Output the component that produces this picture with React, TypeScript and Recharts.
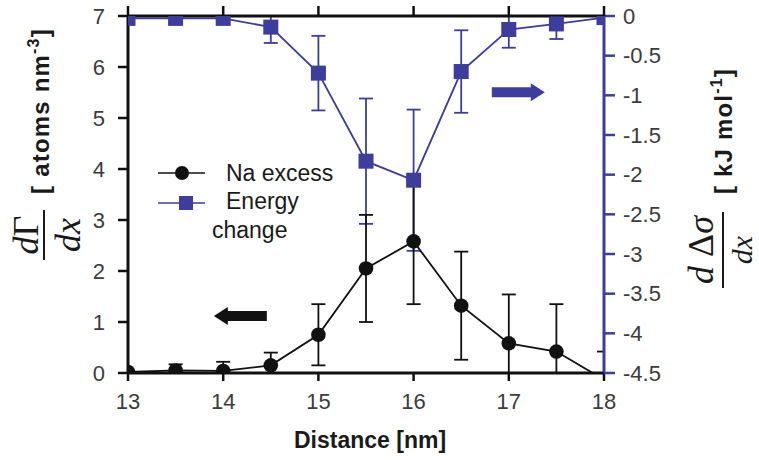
import { LineChart, Line, XAxis, YAxis, ErrorBar, Legend, ReferenceDot, ReferenceLine } from "recharts";

// distance along the profile [nm]
const distance = [13, 13.5, 14, 14.5, 15, 15.5, 16, 16.5, 17, 17.5, 18];
// Na excess dΓ/dx [atoms nm^-3] and its error
const naExcess = [0.02, 0.05, 0.04, 0.15, 0.75, 2.05, 2.58, 1.32, 0.58, 0.42, -0.13];
const naError = [0.02, 0.12, 0.18, 0.25, 0.6, 1.05, 1.23, 1.06, 0.96, 0.93, 0.55];
// energy change dΔσ/dx [kJ mol^-1] and its error
const energyChange = [-0.03, -0.03, -0.03, -0.14, -0.72, -1.83, -2.07, -0.7, -0.17, -0.1, -0.02];
const energyError = [0, 0, 0, 0.2, 0.47, 0.79, 0.89, 0.52, 0.23, 0.19, 0];

const xTicks = [13, 14, 15, 16, 17, 18];
const leftTicks = [0, 1, 2, 3, 4, 5, 6, 7];
const rightTicks = [0, -0.5, -1, -1.5, -2, -2.5, -3, -3.5, -4, -4.5];

// arrow anchors (data units)
const leftArrowAt = { x: 14.18, y: 1.12 };
const rightArrowAt = { x: 17.1, y: -0.96 };

const BLUE = "#3c3d9c";
const BLACK = "#111111";
const GREY = "#3c3c3c";
const SANS = "'Liberation Sans', Arial, sans-serif";
const SERIF = "'Liberation Serif', 'Times New Roman', serif";

const CHART_W = 759;
const CHART_H = 460;
const LEFT_W = 128;
const RIGHT_W = 155;

const data = distance.map((d, i) => ({
  distance: d,
  na: naExcess[i],
  naErr: naError[i],
  energy: energyChange[i],
  energyErr: energyError[i],
}));

// error bars and markers are cut at the frame, like in the original figure
const clipCss = ".recharts-errorBars, .recharts-line-dots { clip-path: url(#plotClip); }";

function CircleDot(props: any) {
  const { cx, cy } = props;
  if (cx == null || cy == null) return null;
  return <circle key={props.key} cx={cx} cy={cy} r={7.3} fill={BLACK} />;
}

function SquareDot(props: any) {
  const { cx, cy } = props;
  if (cx == null || cy == null) return null;
  return <rect key={props.key} x={cx - 7.5} y={cy - 7.5} width={15} height={15} fill={BLUE} />;
}

/** Short outward tick on the top frame, anchored at (tick, yMax). */
function TopTick(props: any) {
  const { cx = 0, cy = 0 } = props;
  return <line x1={cx} y1={cy} x2={cx} y2={cy - 10} stroke={BLACK} strokeWidth={2.5} />;
}

/** Fat block arrow centred on (cx, cy); dir 1 points right, -1 points left. */
function makeArrow(dir: number, color: string) {
  return (props: any) => {
    const { cx = 0, cy = 0 } = props;
    const len = 53, body = 10, head = 18, headLen = 14;
    const tail = cx - (dir * len) / 2;
    const tip = cx + (dir * len) / 2;
    const neck = tip - dir * headLen;
    const pts = [
      [tail, cy - body / 2],
      [neck, cy - body / 2],
      [neck, cy - head / 2],
      [tip, cy],
      [neck, cy + head / 2],
      [neck, cy + body / 2],
      [tail, cy + body / 2],
    ]
      .map((p) => p.join(","))
      .join(" ");
    return <polygon points={pts} fill={color} />;
  };
}

function LegendBox() {
  return (
    <svg width={200} height={100} style={{ display: "block" }}>
      <line x1={8} y1={23} x2={55} y2={23} stroke={BLACK} strokeWidth={1.6} />
      <circle cx={32} cy={23} r={7} fill={BLACK} />
      <text x={76} y={31} fontFamily={SANS} fontSize={23} fill="#1a1a1a">Na excess</text>
      <line x1={8} y1={53} x2={55} y2={53} stroke={BLUE} strokeWidth={1.6} />
      <rect x={29} y={46} width={14} height={14} fill={BLUE} />
      <text x={76} y={59} fontFamily={SANS} fontSize={23} fill="#1a1a1a">Energy</text>
      <text x={62} y={88} fontFamily={SANS} fontSize={23} fill="#1a1a1a">change</text>
    </svg>
  );
}

function LeftTitle(props: any) {
  const vb = props.viewBox ?? { x: 0, y: 16, width: LEFT_W, height: 357 };
  return (
    <g>
      <defs>
        <clipPath id="plotClip">
          <rect x={vb.x + vb.width} y={vb.y} width={CHART_W - LEFT_W - RIGHT_W} height={vb.height} />
        </clipPath>
      </defs>
      <text x={49} y={111} transform="rotate(-90 49 111)" textAnchor="middle" fontFamily={SANS} fontWeight="bold" fontSize={24} letterSpacing={1.2} fill="#1a1a1a">
        [ atoms nm<tspan dy={-10} fontSize={16}>-3</tspan><tspan dy={10}>]</tspan>
      </text>
      <g transform="rotate(-90 44 235)" fontFamily={SERIF} fontSize={36} fill="#1a1a1a">
        <text x={44} y={229} textAnchor="middle">
          <tspan fontStyle="italic">d</tspan>Γ
        </text>
        <line x1={19} y1={235} x2={69} y2={235} stroke="#1a1a1a" strokeWidth={2} />
        <text x={44} y={271} textAnchor="middle" fontStyle="italic">dx</text>
      </g>
    </g>
  );
}

function RightTitle() {
  return (
    <g>
      <text x={732} y={131} transform="rotate(-90 732 131)" textAnchor="middle" fontFamily={SANS} fontWeight="bold" fontSize={24} letterSpacing={1.2} fill="#1a1a1a">
        [ kJ mol<tspan dy={-10} fontSize={16}>-1</tspan><tspan dy={10}>]</tspan>
      </text>
      <g transform="rotate(-90 723 250)" fontFamily={SERIF} fill="#1a1a1a">
        <text x={723} y={240} textAnchor="middle" fontSize={36}>
          <tspan fontStyle="italic">d</tspan> Δ<tspan fontStyle="italic">σ</tspan>
        </text>
        <line x1={685} y1={250} x2={761} y2={250} stroke="#1a1a1a" strokeWidth={2} />
        <text x={723} y={279} textAnchor="middle" fontStyle="italic" fontSize={30}>dx</text>
      </g>
    </g>
  );
}

function XTitle(props: any) {
  const vb = props.viewBox ?? { x: LEFT_W, y: 373, width: 476 };
  return (
    <text x={vb.x + vb.width / 2 + 4} y={448} textAnchor="middle" fontFamily={SANS} fontWeight="bold" fontSize={23} fill="#1a1a1a">
      Distance [nm]
    </text>
  );
}

const tickStyle = { fontFamily: SANS, fontSize: 22, fill: GREY };

export default function App() {
  return (
    <div style={{ position: "absolute", left: 0, top: 0, width: CHART_W, height: CHART_H, background: "#fff" }}>
      <style>{clipCss}</style>
      <LineChart width={CHART_W} height={CHART_H} data={data} margin={{ top: 16, right: 0, bottom: 0, left: 0 }}>
        <XAxis
          dataKey="distance"
          type="number"
          domain={[13, 18]}
          ticks={xTicks}
          interval={0}
          allowDataOverflow
          height={87}
          tickSize={8}
          tickMargin={12}
          tick={tickStyle}
          axisLine={{ stroke: BLACK, strokeWidth: 3 }}
          tickLine={{ stroke: BLACK, strokeWidth: 2.5 }}
          label={{ content: XTitle }}
        />
        <YAxis
          yAxisId="left"
          type="number"
          domain={[0, 7]}
          ticks={leftTicks}
          interval={0}
          allowDataOverflow
          width={LEFT_W}
          tickSize={10}
          tickMargin={13}
          tick={tickStyle}
          axisLine={{ stroke: BLACK, strokeWidth: 3 }}
          tickLine={{ stroke: BLACK, strokeWidth: 2.5 }}
          label={{ content: LeftTitle }}
        />
        <YAxis
          yAxisId="right"
          orientation="right"
          type="number"
          domain={[-4.5, 0]}
          ticks={rightTicks}
          interval={0}
          allowDataOverflow
          width={RIGHT_W}
          tickSize={11}
          tickMargin={8}
          tick={tickStyle}
          axisLine={{ stroke: BLUE, strokeWidth: 3 }}
          tickLine={{ stroke: BLUE, strokeWidth: 2.5 }}
          label={{ content: RightTitle }}
        />
        <Line
          yAxisId="right"
          dataKey="energy"
          stroke={BLUE}
          strokeWidth={1.8}
          dot={SquareDot}
          activeDot={false}
          isAnimationActive={false}
        >
          <ErrorBar dataKey="energyErr" direction="y" width={7} stroke={BLUE} strokeWidth={1.8} />
        </Line>
        <Line
          yAxisId="left"
          dataKey="na"
          stroke={BLACK}
          strokeWidth={1.8}
          dot={CircleDot}
          activeDot={false}
          isAnimationActive={false}
        >
          <ErrorBar dataKey="naErr" direction="y" width={7} stroke={BLACK} strokeWidth={1.8} />
        </Line>
        {/* top frame with outward ticks */}
        <ReferenceLine yAxisId="left" y={7} stroke={BLACK} strokeWidth={3} ifOverflow="visible" />
        {xTicks.map((t) => (
          <ReferenceDot key={t} yAxisId="left" x={t} y={7} ifOverflow="visible" shape={TopTick} />
        ))}
        <ReferenceDot yAxisId="left" x={leftArrowAt.x} y={leftArrowAt.y} shape={makeArrow(-1, BLACK)} />
        <ReferenceDot yAxisId="right" x={rightArrowAt.x} y={rightArrowAt.y} shape={makeArrow(1, BLUE)} />
        <Legend
          content={LegendBox}
          layout="horizontal"
          verticalAlign="middle"
          align="center"
          wrapperStyle={{ left: 150, top: 150, width: 200, height: 100 }}
        />
      </LineChart>
    </div>
  );
}
